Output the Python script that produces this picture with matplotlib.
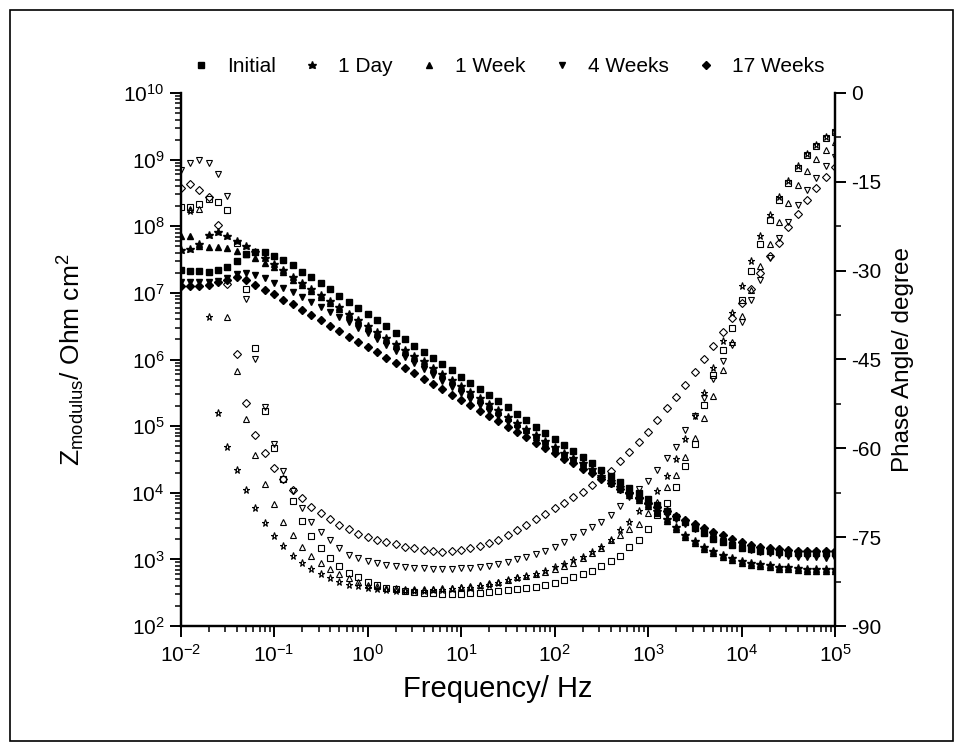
import numpy as np
import matplotlib
matplotlib.use("Agg")
import matplotlib.pyplot as plt
from matplotlib.patches import Rectangle
from matplotlib.ticker import LogLocator, MultipleLocator, NullFormatter

plt.rcParams['font.family'] = ['Liberation Sans', 'DejaVu Sans']
plt.rcParams['mathtext.fontset'] = 'custom'
plt.rcParams['mathtext.rm'] = 'Liberation Sans'
plt.rcParams['mathtext.it'] = 'Liberation Sans:italic'
plt.rcParams['axes.unicode_minus'] = False

nan = np.nan

# frequency grid: 10 points per decade, 0.01 Hz .. 100 kHz
FREQ_MANTISSA = [1.0, 1.259, 1.585, 1.995, 2.512, 3.162, 3.981, 5.012, 6.310, 7.943]
freq = np.array([m * 10.0 ** d for d in range(-2, 5) for m in FREQ_MANTISSA] + [1e5])

labels = ["Initial", "1 Day", "1 Week", "4 Weeks", "17 Weeks"]

# log10 |Z| (Ohm cm^2)
log_z_initial = [7.34, 7.33, 7.33, 7.32, 7.34, 7.39, 7.48, 7.58, 7.62, 7.62,
                 7.56, 7.49, 7.42, 7.32, 7.24, 7.15, 7.06, 6.96, 6.87, 6.78,
                 6.69, 6.59, 6.50, 6.40, 6.31, 6.21, 6.12, 6.02, 5.93, 5.84,
                 5.74, 5.65, 5.56, 5.47, 5.37, 5.28, 5.18, 5.09, 4.99, 4.89,
                 4.80, 4.71, 4.62, 4.53, 4.44, 4.34, 4.25, 4.16, 4.07, 3.99,
                 3.90, 3.81, 3.72, 3.64, 3.56, 3.47, 3.39, 3.31, 3.26, 3.21,
                 3.17, 3.15, 3.13, 3.12, 3.11, 3.10, 3.09, 3.09, 3.09, 3.09, 3.09]
log_z_1day = [7.64, 7.66, 7.73, 7.87, 7.92, 7.86, 7.78, 7.70, 7.61, 7.52,
              7.43, 7.34, 7.24, 7.15, 7.06, 6.97, 6.88, 6.79, 6.69, 6.60,
              6.51, 6.42, 6.33, 6.24, 6.15, 6.06, 5.97, 5.87, 5.78, 5.69,
              5.60, 5.51, 5.42, 5.33, 5.24, 5.14, 5.05, 4.96, 4.87, 4.78,
              4.69, 4.60, 4.52, 4.44, 4.35, 4.25, 4.17, 4.08, 4.00, 3.92,
              3.83, 3.72, 3.60, 3.48, 3.37, 3.27, 3.19, 3.12, 3.06, 3.02,
              2.98, 2.95, 2.93, 2.91, 2.89, 2.88, 2.87, 2.86, 2.85, 2.85, 2.85]
log_z_1week = [7.85, 7.86, 7.70, 7.69, 7.69, 7.68, 7.63, 7.58, 7.52, 7.45,
               7.39, 7.31, 7.20, 7.12, 7.03, 6.94, 6.85, 6.76, 6.67, 6.58,
               6.48, 6.39, 6.30, 6.21, 6.12, 6.03, 5.94, 5.85, 5.76, 5.67,
               5.57, 5.48, 5.39, 5.30, 5.21, 5.12, 5.03, 4.94, 4.84, 4.75,
               4.65, 4.57, 4.49, 4.41, 4.32, 4.23, 4.14, 4.05, 3.97, 3.89,
               3.80, 3.69, 3.57, 3.45, 3.34, 3.24, 3.16, 3.09, 3.03, 2.99,
               2.95, 2.92, 2.90, 2.88, 2.86, 2.85, 2.84, 2.83, 2.82, 2.82, 2.82]
log_z_4weeks = [7.17, 7.17, 7.17, 7.17, 7.18, 7.23, 7.28, 7.30, 7.27, 7.22,
                7.15, 7.08, 7.02, 6.94, 6.87, 6.79, 6.72, 6.64, 6.56, 6.48,
                6.40, 6.31, 6.22, 6.13, 6.04, 5.95, 5.86, 5.77, 5.68, 5.59,
                5.50, 5.41, 5.32, 5.23, 5.15, 5.06, 4.97, 4.89, 4.80, 4.71,
                4.62, 4.54, 4.46, 4.38, 4.29, 4.21, 4.13, 4.05, 3.97, 3.90,
                3.82, 3.75, 3.67, 3.60, 3.53, 3.46, 3.39, 3.33, 3.27, 3.22,
                3.18, 3.14, 3.11, 3.09, 3.06, 3.05, 3.04, 3.03, 3.03, 3.02, 3.02]
log_z_17weeks = [7.10, 7.10, 7.10, 7.12, 7.16, 7.20, 7.24, 7.19, 7.12, 7.05,
                 6.98, 6.90, 6.83, 6.74, 6.67, 6.59, 6.51, 6.43, 6.34, 6.27,
                 6.19, 6.11, 6.03, 5.95, 5.87, 5.79, 5.71, 5.63, 5.55, 5.47,
                 5.39, 5.31, 5.23, 5.15, 5.07, 4.99, 4.91, 4.83, 4.75, 4.67,
                 4.59, 4.51, 4.44, 4.36, 4.29, 4.21, 4.14, 4.06, 3.99, 3.92,
                 3.85, 3.78, 3.72, 3.65, 3.59, 3.53, 3.47, 3.41, 3.36, 3.30,
                 3.26, 3.22, 3.19, 3.17, 3.15, 3.14, 3.13, 3.12, 3.12, 3.12, 3.12]

# phase angle (degree)
phase_initial = [-19.3, -19.2, -18.7, -17.9, -18.4, -19.8, -25.3, -33.1, -43.0, -53.7,
                 -60.0, -65.1, -68.9, -72.3, -74.8, -76.9, -78.6, -79.9, -81.0, -81.8,
                 -82.5, -83.1, -83.5, -83.8, -84.1, -84.3, -84.5, -84.5, -84.6, -84.6,
                 -84.6, -84.5, -84.4, -84.3, -84.1, -84.0, -83.8, -83.6, -83.4, -83.1,
                 -82.8, -82.3, -81.8, -81.3, -80.7, -79.9, -79.0, -78.1, -76.6, -75.4,
                 -73.6, -71.3, -69.2, -66.6, -63.0, -59.2, -52.7, -47.6, -43.4, -39.7,
                 -35.0, -30.1, -25.5, -21.4, -18.1, -15.2, -12.7, -10.5, -8.9, -7.6, -6.6]
phase_1day = [nan, -19.9, nan, -37.8, -54.0, -59.7, -63.7, -67.1, -70.1, -72.6,
              -74.8, -76.5, -78.1, -79.4, -80.4, -81.3, -81.9, -82.5, -83.0, -83.2,
              -83.6, -83.8, -84.0, -84.1, -84.1, -84.1, -84.1, -84.0, -83.9, -83.8,
              -83.6, -83.5, -83.2, -83.0, -82.7, -82.3, -81.9, -81.6, -81.2, -80.7,
              -80.1, -79.5, -78.9, -78.3, -77.5, -76.6, -75.4, -73.8, -72.4, -70.6,
              -68.9, -67.2, -64.6, -61.8, -58.5, -54.5, -50.7, -46.5, -41.8, -37.2,
              -32.6, -28.3, -24.1, -20.6, -17.6, -14.8, -12.4, -10.3, -8.8, -7.4, -6.4]
phase_1week = [nan, -19.6, -19.6, nan, nan, -37.8, -46.9, -55.0, -61.1, -66.0,
               -69.4, -72.5, -74.6, -76.6, -78.2, -79.4, -80.4, -81.2, -81.9, -82.5,
               -83.1, -83.3, -83.5, -83.6, -83.7, -83.8, -83.8, -83.7, -83.6, -83.5,
               -83.4, -83.2, -83.1, -82.8, -82.5, -82.2, -81.8, -81.6, -81.2, -80.8,
               -80.3, -79.9, -79.3, -78.6, -77.7, -76.8, -75.5, -74.6, -73.7, -72.7,
               -71.0, -69.1, -66.6, -64.5, -61.4, -58.3, -54.9, -51.2, -46.7, -42.0,
               -37.7, -33.3, -29.2, -25.5, -21.8, -18.5, -15.5, -13.2, -11.2, -9.6, -8.2]
phase_4weeks = [-13.0, -11.8, -11.3, -11.8, -13.6, -17.4, nan, -34.7, -44.9, -53.0,
                -59.2, -63.8, -67.2, -70.1, -72.4, -74.2, -75.5, -76.9, -78.0, -78.6,
                -79.1, -79.4, -79.7, -79.9, -80.0, -80.2, -80.2, -80.3, -80.3, -80.3,
                -80.2, -80.2, -80.0, -79.9, -79.5, -79.2, -78.7, -78.4, -77.9, -77.3,
                -76.6, -75.9, -74.9, -74.2, -73.2, -72.4, -71.3, -69.7, -68.2, -66.9,
                -65.5, -63.7, -61.7, -59.7, -56.9, -54.5, -51.5, -48.3, -45.3, -42.6,
                -38.7, -35.0, -31.5, -27.9, -24.5, -21.8, -18.9, -16.4, -14.3, -12.4, -10.8]
phase_17weeks = [-16.1, -15.4, -16.4, -17.6, -22.3, -32.3, -44.0, -52.4, -57.8, -60.8,
                 -63.3, -65.2, -67.0, -68.4, -69.9, -70.9, -71.9, -72.9, -73.7, -74.4,
                 -75.0, -75.4, -75.8, -76.2, -76.6, -76.9, -77.1, -77.3, -77.5, -77.3,
                 -77.1, -76.8, -76.5, -76.0, -75.4, -74.6, -73.8, -72.9, -72.0, -71.1,
                 -70.1, -69.2, -68.3, -67.3, -66.2, -64.9, -63.8, -62.2, -60.6, -58.9,
                 -57.2, -55.3, -53.2, -51.4, -49.3, -47.1, -44.9, -42.7, -40.3, -38.0,
                 -35.5, -33.1, -30.4, -27.6, -25.3, -22.7, -20.4, -18.1, -16.1, -14.2, -12.5]

log_z_series = [log_z_initial, log_z_1day, log_z_1week, log_z_4weeks, log_z_17weeks]
phase_series = [phase_initial, phase_1day, phase_1week, phase_4weeks, phase_17weeks]
markers = ['s', '*', '^', 'v', 'D']
filled_ms = [4.3, 6.2, 4.9, 4.9, 4.0]
open_ms = [3.7, 5.2, 4.2, 4.2, 3.6]

W, H = 963, 751
fig = plt.figure(figsize=(W / 100, H / 100), dpi=100)
left, right, top, bottom = 180.5, 835, 93, 626
ax = fig.add_axes([left / W, 1 - bottom / H, (right - left) / W, (bottom - top) / H])
ax2 = ax.twinx()

handles = []
for lz, mk, ms, lab in zip(log_z_series, markers, filled_ms, labels):
    h, = ax.plot(freq, 10 ** np.array(lz), linestyle='none', marker=mk, ms=ms,
                 color='black', mec='black', label=lab, clip_on=True, zorder=3)
    handles.append(h)

for ph, mk, ms in zip(phase_series, markers, open_ms):
    ax2.plot(freq, ph, linestyle='none', marker=mk, ms=ms, mfc='none',
             mec='black', mew=0.8, clip_on=True, zorder=3)

ax.set_xscale('log')
ax.set_yscale('log')
ax.set_xlim(1e-2, 1e5)
ax.set_ylim(1e2, 1e10)
ax2.set_ylim(-90, 0)

ax.xaxis.set_major_locator(LogLocator(base=10, numticks=20))
ax.xaxis.set_minor_locator(LogLocator(base=10, subs=np.arange(2, 10), numticks=20))
ax.xaxis.set_minor_formatter(NullFormatter())
ax.yaxis.set_major_locator(LogLocator(base=10, numticks=20))
ax.yaxis.set_minor_locator(LogLocator(base=10, subs=np.arange(2, 10), numticks=20))
ax.yaxis.set_minor_formatter(NullFormatter())
ax2.yaxis.set_major_locator(MultipleLocator(15))
ax2.yaxis.set_minor_locator(MultipleLocator(7.5))

for a in (ax, ax2):
    a.spines['top'].set_visible(False)
    for s in ('left', 'right', 'bottom'):
        a.spines[s].set_linewidth(1.6)
    a.tick_params(which='major', direction='out', length=8, width=1.4, labelsize=15)
    a.tick_params(which='minor', direction='out', length=4.5, width=1.1)

ax.tick_params(axis='y', right=False)
ax2.tick_params(axis='y', left=False)
ax.tick_params(axis='x', pad=5)

ax.set_xlabel('Frequency/ Hz', fontsize=21)
ax.xaxis.set_label_coords(0.485, -0.092)
ax.set_ylabel(r'Z$_{\mathrm{modulus}}$/ Ohm cm$^{2}$', fontsize=19, labelpad=26)
ax2.set_ylabel('Phase Angle/ degree', fontsize=17.5, labelpad=8)

ax.legend(handles=handles, loc='center', bbox_to_anchor=(0.5, 1 + 26 / 533), ncol=5,
          frameon=False, fontsize=15, handletextpad=0.8, columnspacing=1.3,
          handlelength=0.9, borderaxespad=0.0, borderpad=0.0)

fig.patches.append(Rectangle((10 / W, 10 / H), (W - 20) / W, (H - 20) / H,
                             transform=fig.transFigure, fill=False,
                             edgecolor='black', linewidth=1.2))

fig.savefig('out.png', dpi=100)
